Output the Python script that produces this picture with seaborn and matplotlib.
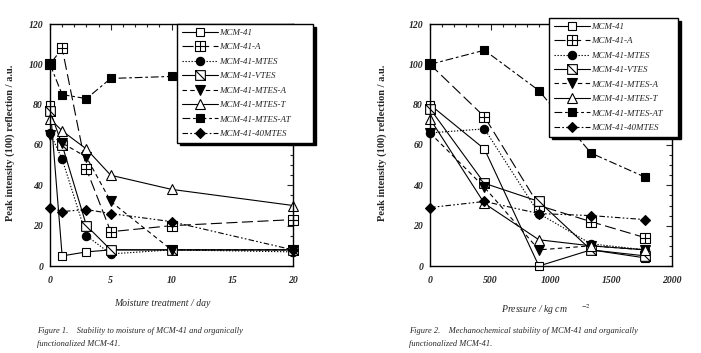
import matplotlib
matplotlib.use("Agg")
import matplotlib.pyplot as plt
from matplotlib.path import Path
from matplotlib.ticker import MultipleLocator
import seaborn as sns

# ─── data ─────────────────────────────────────────────────
SERIES = ["MCM-41", "MCM-41-A", "MCM-41-MTES", "MCM-41-VTES",
          "MCM-41-MTES-A", "MCM-41-MTES-T", "MCM-41-MTES-AT", "MCM-41-40MTES"]

DAYS = [0, 1, 3, 5, 10, 20]
MOIST_MCM41 = [80, 5, 7, 8, 8, 8]
MOIST_A = [100, 108, 48, 17, 20, 23]
MOIST_MTES = [66, 53, 15, 6, 8, 7]
MOIST_VTES = [77, 60, 20, 8, 8, 8]
MOIST_MTES_A = [65, 61, 54, 32, 8, 8]
MOIST_MTES_T = [73, 67, 58, 45, 38, 30]
MOIST_MTES_AT = [100, 85, 83, 93, 94, 95]
MOIST_40MTES = [29, 27, 28, 26, 22, 8]

PRESSURE = [0, 450, 900, 1330, 1780]
PRESS_MCM41 = [80, 58, 0, 8, 4]
PRESS_A = [100, 74, 30, 22, 14]
PRESS_MTES = [66, 68, 26, 11, 8]
PRESS_VTES = [78, 41, 32, 8, 5]
PRESS_MTES_A = [66, 39, 8, 10, 8]
PRESS_MTES_T = [73, 31, 13, 10, 8]
PRESS_MTES_AT = [100, 107, 87, 56, 44]
PRESS_40MTES = [29, 32, 26, 25, 23]

MOIST = [MOIST_MCM41, MOIST_A, MOIST_MTES, MOIST_VTES,
         MOIST_MTES_A, MOIST_MTES_T, MOIST_MTES_AT, MOIST_40MTES]
PRESS = [PRESS_MCM41, PRESS_A, PRESS_MTES, PRESS_VTES,
         PRESS_MTES_A, PRESS_MTES_T, PRESS_MTES_AT, PRESS_40MTES]

# ─── marker shapes ────────────────────────────────────────
SQ = [(-1, -1), (1, -1), (1, 1), (-1, 1), (-1, -1)]
SQ_CODES = [Path.MOVETO, Path.LINETO, Path.LINETO, Path.LINETO, Path.CLOSEPOLY]
BOX_PLUS = Path(SQ + [(0, -1), (0, 1), (-1, 0), (1, 0)],
                SQ_CODES + [Path.MOVETO, Path.LINETO, Path.MOVETO, Path.LINETO])
BOX_SLASH = Path(SQ + [(-1, 1), (1, -1)],
                 SQ_CODES + [Path.MOVETO, Path.LINETO])

STYLES = [
    dict(marker="s", mfc="white", ls="-", ms=6),
    dict(marker=BOX_PLUS, mfc="white", ls=(0, (10, 4)), ms=7),
    dict(marker="o", mfc="black", ls=(0, (1.2, 1.5)), ms=6),
    dict(marker=BOX_SLASH, mfc="white", ls="-", ms=7),
    dict(marker="v", mfc="black", ls=(0, (4, 3)), ms=7),
    dict(marker="^", mfc="white", ls="-", ms=7),
    dict(marker="s", mfc="black", ls=(0, (7, 2.5, 2.5, 2.5)), ms=6),
    dict(marker="D", mfc="black", ls=(0, (5, 2, 1.5, 2, 1.5, 2)), ms=5.5),
]

sns.set_style("white")
plt.rcParams["font.family"] = ["Liberation Serif", "DejaVu Serif"]
plt.rcParams["mathtext.fontset"] = "stix"

fig = plt.figure(figsize=(7.01, 3.53), dpi=100)
W, H = 701, 353
ax1 = fig.add_axes([50 / W, 1 - 266 / H, 243 / W, 242 / H])
ax2 = fig.add_axes([430 / W, 1 - 266 / H, 242 / W, 242 / H])


def draw_panel(ax, xs, table):
    for name, vals, st in zip(SERIES, table, STYLES):
        sns.lineplot(x=xs, y=vals, ax=ax, color="black", linestyle=st["ls"],
                     linewidth=0.8, marker=st["marker"], markersize=st["ms"],
                     markerfacecolor=st["mfc"], markeredgecolor="black",
                     markeredgewidth=0.8, label=name, clip_on=False,
                     legend=False)
    ax.set_ylim(0, 120)
    ax.yaxis.set_major_locator(MultipleLocator(20))
    ax.yaxis.set_minor_locator(MultipleLocator(5))
    ax.tick_params(which="both", direction="in", top=True, right=True,
                   width=0.8, labelsize=7, pad=5)
    ax.tick_params(which="major", length=4)
    ax.tick_params(which="minor", length=2.5)
    ax.tick_params(axis="x", pad=7)
    for sp in ax.spines.values():
        sp.set_visible(True)
        sp.set_color("black")
        sp.set_linewidth(1.0)
    ax.set_ylabel("Peak intensity (100) reflection / a.u.", fontsize=7.5,
                  fontweight="bold")


draw_panel(ax1, DAYS, MOIST)
ax1.set_xlim(0, 20)
ax1.xaxis.set_major_locator(MultipleLocator(5))
ax1.xaxis.set_minor_locator(MultipleLocator(1))
draw_panel(ax2, PRESSURE, PRESS)
ax2.set_xlim(0, 2000)
ax2.xaxis.set_major_locator(MultipleLocator(500))
ax2.xaxis.set_minor_locator(MultipleLocator(100))
for ax in (ax1, ax2):
    for lab in ax.get_xticklabels() + ax.get_yticklabels():
        lab.set_fontweight("bold")
        lab.set_fontstyle("italic")

ax1.yaxis.set_label_coords(-0.144, 0.508)
ax2.yaxis.set_label_coords(-0.178, 0.508)

ax1.set_xlabel("Moisture treatment / day", fontsize=7, fontstyle="italic")
ax1.xaxis.set_label_coords(0.461, -0.136)
ax2.set_xlabel("Pressure / kg cm      $^{-2}$", fontsize=7, fontstyle="italic")
ax2.xaxis.set_label_coords(0.48, -0.15)

for ax, bb in ((ax1, (0.523, 0.0, 0.56, 1.0)), (ax2, (0.492, 0.0, 0.533, 1.025))):
    handles, labels = ax.get_legend_handles_labels()
    leg = ax.legend(handles, labels, loc="upper left", bbox_to_anchor=bb,
                    mode="expand", borderaxespad=0,
                    prop={"style": "italic", "size": 6.5},
                    handlelength=4.0, handletextpad=0.2, labelspacing=0.68,
                    borderpad=0.5, fancybox=False, framealpha=1,
                    edgecolor="black", shadow={"color": "black", "alpha": 1})
    leg.get_frame().set_linewidth(1.0)
    leg.set_zorder(10)

fig.text(37 / W, 1 - 331 / H, "Figure 1.    Stability to moisture of MCM-41 and organically",
         fontsize=6, fontstyle="italic", va="center")
fig.text(37 / W, 1 - 344 / H, "functionalized MCM-41.",
         fontsize=6, fontstyle="italic", va="center")
fig.text(409 / W, 1 - 331 / H, "Figure 2.    Mechanochemical stability of MCM-41 and organically",
         fontsize=6, fontstyle="italic", va="center")
fig.text(409 / W, 1 - 344 / H, "functionalized MCM-41.",
         fontsize=6, fontstyle="italic", va="center")

fig.savefig("out.png", dpi=100)
